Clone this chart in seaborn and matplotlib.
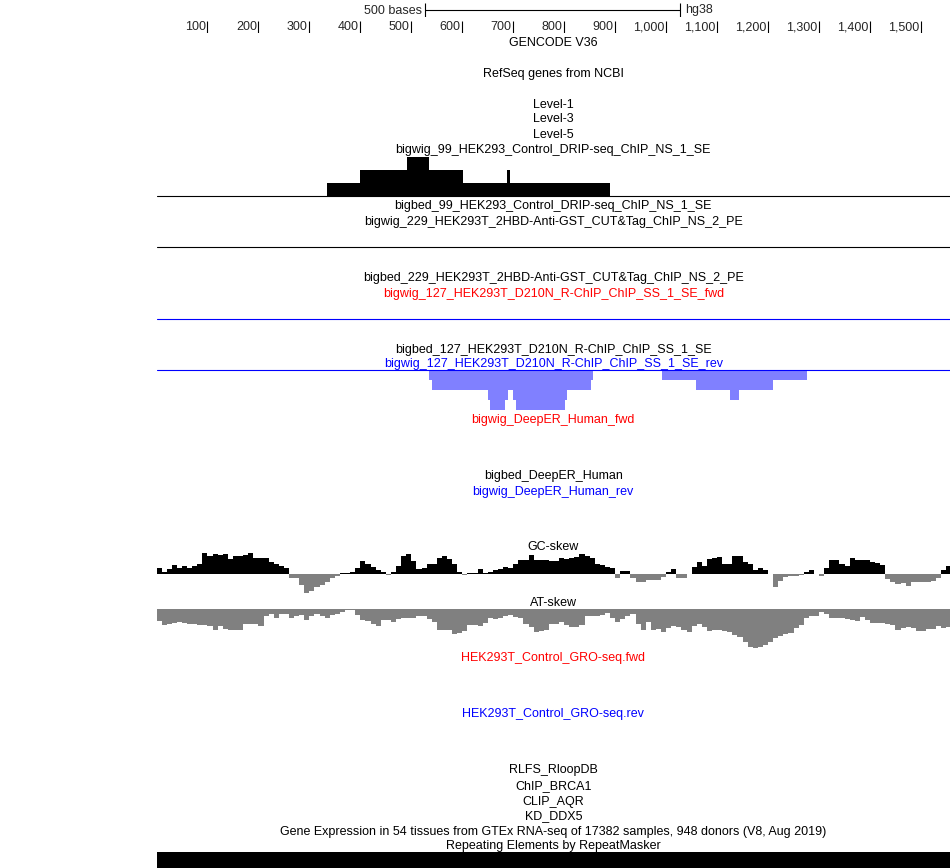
import numpy as np
import seaborn as sns
import matplotlib.pyplot as plt

sns.set_style("white")
plt.rcParams['font.family'] = ['Liberation Sans', 'DejaVu Sans']

# figure geometry (pixels)
W, H = 950, 868
X0, X1 = 156.5, 950
CX = (X0 + X1) / 2
VIEW_END = 1557          # bases shown across the data area
FS = 9.0
TEXT_DY = 0.5            # matplotlib centres on the full line box, nudge down

# ruler / scale bar
ruler_ticks = [100, 200, 300, 400, 500, 600, 700, 800, 900, 1000, 1100, 1200, 1300, 1400, 1500]
ruler_labels = ["100", "200", "300", "400", "500", "600", "700", "800", "900",
                "1,000", "1,100", "1,200", "1,300", "1,400", "1,500"]
scale_start, scale_end = 527, 1027

# DRIP-seq bigwig (black, up)
drip_starts = [334, 399, 492, 534, 601, 688, 693]
drip_ends = [399, 492, 534, 601, 688, 693, 890]
drip_values = [1, 2, 3, 2, 1, 2, 1]

# R-ChIP reverse strand bigwig (light blue, down)
rchip_starts = [535, 541, 650, 654, 684, 690, 699, 705, 802, 806, 852, 992, 1059, 1126, 1142, 1209]
rchip_ends = [541, 650, 654, 684, 690, 699, 705, 802, 806, 852, 856, 1059, 1126, 1142, 1209, 1276]
rchip_values = [-1, -2, -3, -4, -3, -2, -3, -4, -3, -2, -1, -1, -2, -3, -2, -1]

# GC / AT skew, 10 bp bins
skew_bin = 10
gc_skew = [5.3, 2, 4.7, 8.7, 5.3, 7.3, 6, 7.3, 10, 20.7,
           18, 19.3, 18.7, 19.3, 14.7, 17.3, 18, 18.7, 20.7, 16,
           16, 15.3, 12, 9.3, 7.3, 6, -4, -4.7, -11.3, -19.7,
           -17.3, -13, -11.3, -8.7, -4.7, -2.7, 0.3, 0.8, 1.5, 5.3,
           12.7, 10, 6.7, 4, 2, -1, 2, 8, 17.3, 19.3,
           12.7, 4.7, 6, 9.3, 10, 15.3, 17.3, 14.7, 10, 1.3,
           -1, 0.3, 0.5, 4.7, 0.8, 2, 3.3, 4.7, 6.7, 6,
           9.3, 13.3, 14, 18.7, 13.3, 14, 13.3, 12.7, 12.7, 15.3,
           14.7, 15.3, 16.7, 19.3, 18, 15.3, 10, 8.7, 6.7, 5.3,
           -4, 2.7, 2.7, -4, -8.7, -8.7, -6, -6.7, -6.7, -3.3,
           2, 4.7, -4, -4, -0.5, 6.7, 11.3, 8, 14.7, 15.3,
           16.7, 9.3, 10, 18, 18, 12, 9.3, 3.3, 5.3, 4,
           -0.5, -13.3, -7.3, -3.3, -2.7, -2, -1.3, 2, 3.3, -0.5,
           -2, 5.3, 13.3, 14, 9.3, 8, 15.3, 14, 13.3, 13.3,
           12, 10.7, 8.7, -5.3, -8.7, -10.7, -9.3, -12.7, -8.7, -8,
           -8.7, -8, -7.3, -4.7, 4, 8]
at_skew = [-12, -16, -14.7, -14, -13.3, -14, -15.3, -15.3, -16, -16,
           -17.3, -20.7, -17.3, -20, -20.7, -20.7, -21.3, -15.3, -15.3, -15.3,
           -17.3, -7.3, -4.7, -8.7, -5.3, -5.3, -8.7, -7.3, -6, -11.3,
           -7.3, -4.7, -7.3, -8.7, -6, -4.7, -3.3, -1.3, -1, -6,
           -11.3, -12, -14.7, -16.7, -11.3, -10.7, -13.3, -10, -9.3, -8.7,
           -8.7, -7.3, -6.7, -10, -13.3, -20.7, -20.7, -20.7, -25.3, -24,
           -22, -16, -16, -16.7, -14, -9.3, -10, -9.3, -7.3, -6,
           -8, -9.3, -15.3, -18, -23.3, -22, -21.3, -15, -14.7, -13.3,
           -16, -18, -18, -16, -6.7, -6.7, -7.3, -6, -4, -8.7,
           -13.3, -10, -7.3, -4.7, -14.7, -21.3, -13.3, -21.3, -20, -22.7,
           -19.3, -16.7, -18, -20.7, -23.3, -17.3, -15.3, -18, -22, -20.7,
           -21.3, -22, -23.3, -26, -28, -33.3, -38, -38.7, -38, -36,
           -33.3, -28.7, -26.7, -25.3, -24, -19.3, -16, -9.3, -7.3, -6.7,
           -2.7, -4.7, -8.7, -9.3, -8.7, -10, -11.3, -12, -8, -11.3,
           -14, -14, -14, -15.3, -16, -21.3, -18.7, -18, -18.7, -22,
           -22, -20, -20, -17.3, -19.3, -18]

# repeat masker block
repeat_starts = [0]
repeat_ends = [VIEW_END]

RED = "#ff0000"
BLUE = "#0000ff"
LIGHT_BLUE = "#8080ff"
GREY = "#808080"

# track labels: (y pixel, text, colour)
labels = [
    (43, "GENCODE V36", "black"),
    (74, "RefSeq genes from NCBI", "black"),
    (104, "Level-1", "black"),
    (119, "Level-3", "black"),
    (135, "Level-5", "black"),
    (150, "bigwig_99_HEK293_Control_DRIP-seq_ChIP_NS_1_SE", "black"),
    (206, "bigbed_99_HEK293_Control_DRIP-seq_ChIP_NS_1_SE", "black"),
    (221, "bigwig_229_HEK293T_2HBD-Anti-GST_CUT&Tag_ChIP_NS_2_PE", "black"),
    (277, "bigbed_229_HEK293T_2HBD-Anti-GST_CUT&Tag_ChIP_NS_2_PE", "black"),
    (293, "bigwig_127_HEK293T_D210N_R-ChIP_ChIP_SS_1_SE_fwd", RED),
    (349, "bigbed_127_HEK293T_D210N_R-ChIP_ChIP_SS_1_SE", "black"),
    (364, "bigwig_127_HEK293T_D210N_R-ChIP_ChIP_SS_1_SE_rev", BLUE),
    (420, "bigwig_DeepER_Human_fwd", RED),
    (475, "bigbed_DeepER_Human", "black"),
    (491, "bigwig_DeepER_Human_rev", BLUE),
    (546, "GC-skew", "black"),
    (602, "AT-skew", "black"),
    (658, "HEK293T_Control_GRO-seq.fwd", RED),
    (714, "HEK293T_Control_GRO-seq.rev", BLUE),
    (770, "RLFS_RloopDB", "black"),
    (786, "ChIP_BRCA1", "black"),
    (801, "CLIP_AQR", "black"),
    (816, "KD_DDX5", "black"),
    (831, "Gene Expression in 54 tissues from GTEx RNA-seq of 17382 samples, 948 donors (V8, Aug 2019)", "black"),
    (845.5, "Repeating Elements by RepeatMasker", "black"),
]

fig = plt.figure(figsize=(W / 100, H / 100), dpi=100)
canvas = fig.add_axes([0, 0, 1, 1])
canvas.set_xlim(0, W)
canvas.set_ylim(H, 0)
canvas.axis('off')


def track_axes(top, bottom):
    ax = fig.add_axes([X0 / W, 1 - bottom / H, (X1 - X0) / W, (bottom - top) / H])
    ax.set_xlim(0, VIEW_END)
    ax.axis('off')
    ax.patch.set_alpha(0)
    return ax


def step_bars(ax, starts, ends, values, color):
    starts = np.asarray(starts)
    widths = np.asarray(ends) - starts
    ax.bar(starts, values, width=widths, align='edge', color=color,
           linewidth=0, antialiased=False)


for y, s, c in labels:
    canvas.text(CX, y + TEXT_DY, s, ha='center', va='center', fontsize=FS, color=c)

# scale bar
ax = track_axes(3, 17)
ax.set_ylim(0, 1)
ax.hlines(0.5, scale_start, scale_end, color='black', lw=0.8)
ax.vlines([scale_start, scale_end], 0.0, 1.0, color='black', lw=0.8)
ax.annotate("500 bases", (scale_start, 0.5), xytext=(-3, -TEXT_DY), textcoords='offset pixels',
            ha='right', va='center', fontsize=FS)
ax.annotate("hg38", (scale_end, 0.5), xytext=(5, -TEXT_DY), textcoords='offset pixels',
            ha='left', va='center', fontsize=FS)

# ruler
ax = track_axes(21, 33)
ax.set_ylim(0, 1)
ax.vlines(ruler_ticks, 0, 1, color='black', lw=0.8)
for t, lab in zip(ruler_ticks, ruler_labels):
    ax.annotate(lab, (t, 0.5), xytext=(-1.5, -TEXT_DY), textcoords='offset pixels',
                ha='right', va='center', fontsize=FS)

# DRIP-seq signal
ax = track_axes(157, 196)
ax.set_ylim(0, 3)
step_bars(ax, drip_starts, drip_ends, drip_values, 'black')
ax.axhline(0, color='black', lw=0.8, clip_on=False)

# empty CUT&Tag bigwig
ax = track_axes(237, 247)
ax.set_ylim(0, 1)
ax.axhline(0, color='black', lw=0.8, clip_on=False)

# empty R-ChIP forward
ax = track_axes(309, 319)
ax.set_ylim(0, 1)
ax.axhline(0, color=BLUE, lw=0.8, clip_on=False)

# R-ChIP reverse
ax = track_axes(370, 410)
ax.set_ylim(-4, 0)
step_bars(ax, rchip_starts, rchip_ends, rchip_values, LIGHT_BLUE)
ax.axhline(0, color=BLUE, lw=0.8, clip_on=False)

# GC skew
bin_starts = np.arange(len(gc_skew)) * skew_bin
gc = np.array(gc_skew)
ax = track_axes(552, 595)
ax.set_ylim(-21.3, 21.7)
ax.bar(bin_starts, gc, width=skew_bin, align='edge', linewidth=0, antialiased=False,
       color=np.where(gc >= 0, 'black', GREY))

# AT skew
bin_starts = np.arange(len(at_skew)) * skew_bin
ax = track_axes(609, 650)
ax.set_ylim(-41, 0)
ax.bar(bin_starts, at_skew, width=skew_bin, align='edge', linewidth=0,
       antialiased=False, color=GREY)

# RepeatMasker
ax = track_axes(852, 868)
ax.set_ylim(0, 1)
step_bars(ax, repeat_starts, repeat_ends, [1] * len(repeat_starts), 'black')

fig.savefig('out.png', dpi=100)
